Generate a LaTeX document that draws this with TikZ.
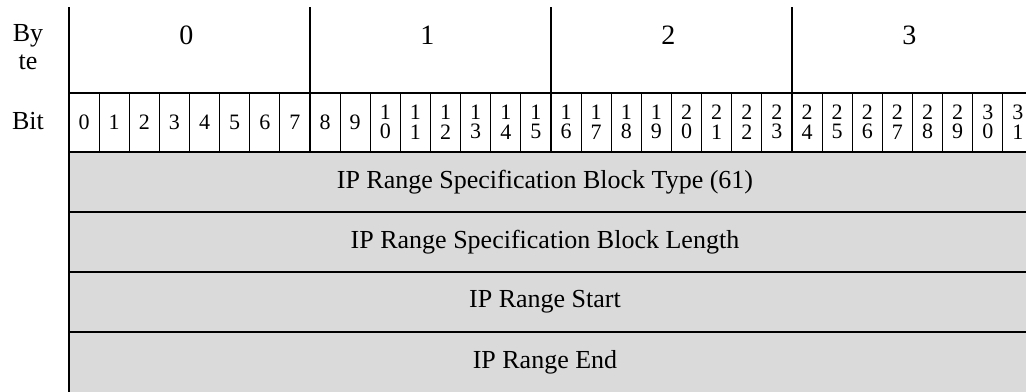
\documentclass[tikz,border=0pt]{standalone}
\usepackage{fontspec}
\setmainfont{Liberation Serif}
\usetikzlibrary{positioning}

\definecolor{fieldgray}{RGB}{218,218,218}
\tikzset{
  thickline/.style={line width=1.7pt},
  thinline/.style={line width=0.8pt},
  sidetext/.style={font=\fontsize{26}{28}\selectfont, align=center, inner sep=0pt},
  bytenum/.style={font=\fontsize{28}{30}\selectfont, inner sep=0pt},
  bitnum/.style={font=\fontsize{22}{19.5}\selectfont, align=center, inner sep=0pt},
  fieldtext/.style={font=\fontsize{26}{28}\selectfont, inner sep=0pt}
}

\begin{document}
\begin{tikzpicture}[x=30.125pt,y=-1pt]
  \useasboundingbox (-2.2905,0) rectangle (31.768,392);   % page frame
  \clip (-2.2905,0) rectangle (31.768,392);

  \fill[fieldgray] (0,152) rectangle (32,400);              % field rows

  \draw[thickline] (0,7) -- (0,400);                       % left border
  \draw[thickline] (8,7) -- (8,152);                       % byte border
  \draw[thickline] (16,7) -- (16,152);                     % byte border
  \draw[thickline] (24,7) -- (24,152);                     % byte border
  \draw[thickline] (32,7) -- (32,400);                     % right border

  \draw[thickline] (0,93) -- (32,93);                      % below byte row
  \draw[thickline] (0,152) -- (32,152);                    % below bit row
  \draw[thickline] (0,212) -- (32,212);                    % field border
  \draw[thickline] (0,272) -- (32,272);                    % field border
  \draw[thickline] (0,332) -- (32,332);                    % field border

  % bit borders
  \draw[thinline] (1,93) -- (1,152) (2,93) -- (2,152) (3,93) -- (3,152)
                  (4,93) -- (4,152) (5,93) -- (5,152) (6,93) -- (6,152)
                  (7,93) -- (7,152);
  \draw[thinline] (9,93) -- (9,152) (10,93) -- (10,152) (11,93) -- (11,152)
                  (12,93) -- (12,152) (13,93) -- (13,152) (14,93) -- (14,152)
                  (15,93) -- (15,152);
  \draw[thinline] (17,93) -- (17,152) (18,93) -- (18,152) (19,93) -- (19,152)
                  (20,93) -- (20,152) (21,93) -- (21,152) (22,93) -- (22,152)
                  (23,93) -- (23,152);
  \draw[thinline] (25,93) -- (25,152) (26,93) -- (26,152) (27,93) -- (27,152)
                  (28,93) -- (28,152) (29,93) -- (29,152) (30,93) -- (30,152)
                  (31,93) -- (31,152);

  \node[sidetext] (bytelbl) at (-1.36,47) {By\\te};       % row label
  \node[sidetext] (bitlbl) at (-1.36,121) {Bit};           % row label

  \node[bytenum] (byte0) at (3.9,35) {0};                  % byte number
  \node[bytenum] (byte1) at (11.9,35) {1};                 % byte number
  \node[bytenum] (byte2) at (19.9,35) {2};                 % byte number
  \node[bytenum] (byte3) at (27.9,35) {3};                 % byte number

  \node[bitnum] (bit0) at (0.5,122) {0};
  \node[bitnum] (bit1) at (1.5,122) {1};
  \node[bitnum] (bit2) at (2.5,122) {2};
  \node[bitnum] (bit3) at (3.5,122) {3};
  \node[bitnum] (bit4) at (4.5,122) {4};
  \node[bitnum] (bit5) at (5.5,122) {5};
  \node[bitnum] (bit6) at (6.5,122) {6};
  \node[bitnum] (bit7) at (7.5,122) {7};
  \node[bitnum] (bit8) at (8.5,122) {8};
  \node[bitnum] (bit9) at (9.5,122) {9};
  \node[bitnum] (bit10) at (10.5,122) {1\\0};
  \node[bitnum] (bit11) at (11.5,122) {1\\1};
  \node[bitnum] (bit12) at (12.5,122) {1\\2};
  \node[bitnum] (bit13) at (13.5,122) {1\\3};
  \node[bitnum] (bit14) at (14.5,122) {1\\4};
  \node[bitnum] (bit15) at (15.5,122) {1\\5};
  \node[bitnum] (bit16) at (16.5,122) {1\\6};
  \node[bitnum] (bit17) at (17.5,122) {1\\7};
  \node[bitnum] (bit18) at (18.5,122) {1\\8};
  \node[bitnum] (bit19) at (19.5,122) {1\\9};
  \node[bitnum] (bit20) at (20.5,122) {2\\0};
  \node[bitnum] (bit21) at (21.5,122) {2\\1};
  \node[bitnum] (bit22) at (22.5,122) {2\\2};
  \node[bitnum] (bit23) at (23.5,122) {2\\3};
  \node[bitnum] (bit24) at (24.5,122) {2\\4};
  \node[bitnum] (bit25) at (25.5,122) {2\\5};
  \node[bitnum] (bit26) at (26.5,122) {2\\6};
  \node[bitnum] (bit27) at (27.5,122) {2\\7};
  \node[bitnum] (bit28) at (28.5,122) {2\\8};
  \node[bitnum] (bit29) at (29.5,122) {2\\9};
  \node[bitnum] (bit30) at (30.5,122) {3\\0};
  \node[bitnum] (bit31) at (31.5,122) {3\\1};

  \node[fieldtext] (blocktype) at (15.8,182) {IP Range Specification Block Type (61)};
  \node[fieldtext] (blocklength) at (15.8,242) {IP Range Specification Block Length};
  \node[fieldtext] (rangestart) at (15.8,302) {IP Range Start};
  \node[fieldtext] (rangeend) at (15.8,362) {IP Range End};
\end{tikzpicture}
\end{document}
